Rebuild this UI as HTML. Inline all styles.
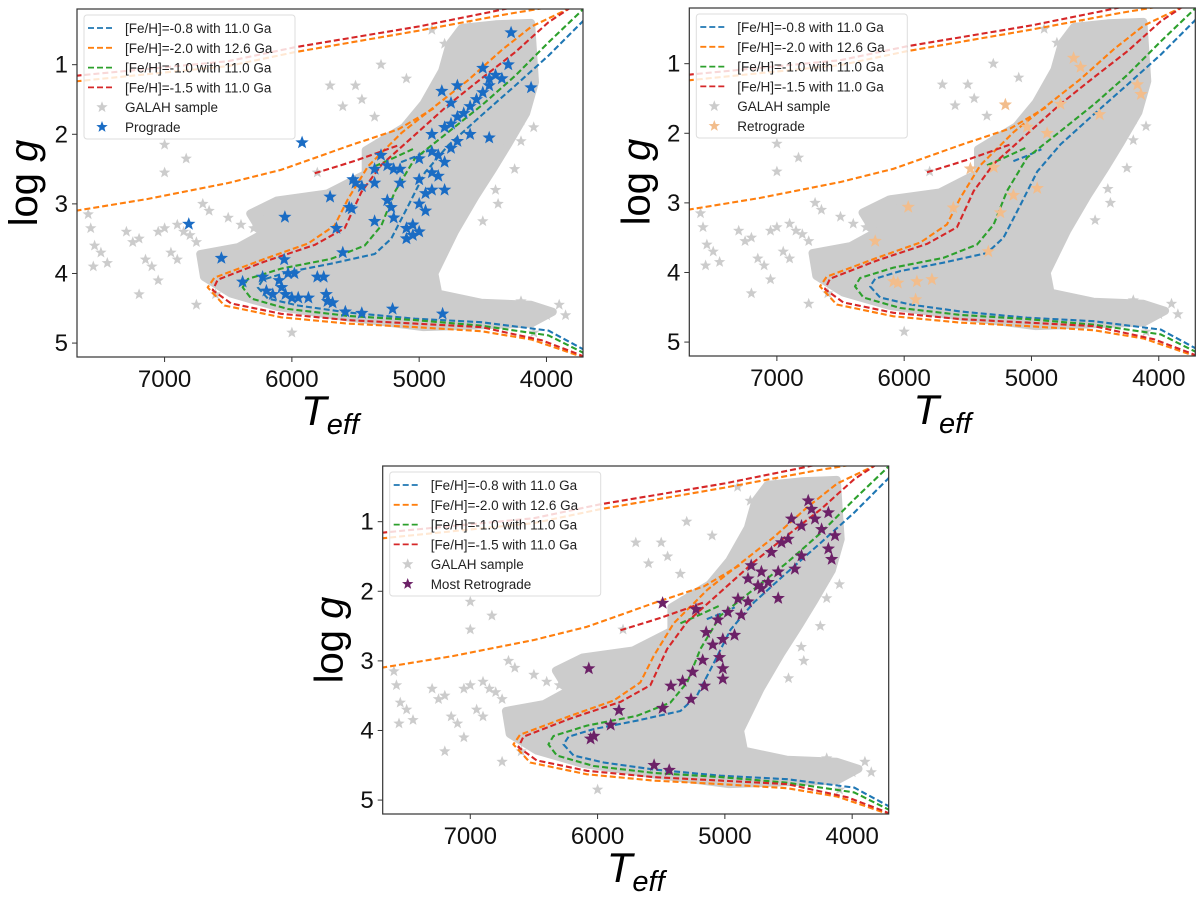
<!DOCTYPE html>
<html><head><meta charset="utf-8">
<style>
html,body{margin:0;padding:0;background:#fff;}
svg{display:block;font-family:"Liberation Sans","DejaVu Sans",sans-serif;}
</style></head>
<body>
<svg id="fig" width="1200" height="899" viewBox="0 0 1200 899" xmlns="http://www.w3.org/2000/svg"></svg>
<script>
// ---------- data ----------
const xTicks = [7000, 6000, 5000, 4000];
const yTicks = [1, 2, 3, 4, 5];
const isoLabels = ["[Fe/H]=-0.8 with 11.0 Ga","[Fe/H]=-2.0 with 12.6 Ga","[Fe/H]=-1.0 with 11.0 Ga","[Fe/H]=-1.5 with 11.0 Ga"];
const isoColors = ["#1f77b4","#ff7f0e","#2ca02c","#d62728"];
const isoBlue = [[3700,5.1],[3722,5.08],[3984,4.82],[4512,4.70],[5034,4.65],[5559,4.56],[5953,4.46],[6189,4.36],[6268,4.20],[6228,4.09],[6031,3.98],[5693,3.86],[5349,3.72],[5220,3.50],[5087,3.03],[4955,2.55],[4772,2.16],[4512,1.73],[4246,1.30],[3984,0.87],[3722,0.39],[3650,0.25]];
const isoBlueHB = [[5142,2.40],[5030,2.32],[4922,2.23]];
const isoGreen = [[3700,5.15],[3722,5.13],[3984,4.89],[4512,4.75],[5034,4.67],[5559,4.61],[6031,4.51],[6320,4.36],[6386,4.20],[6346,4.08],[6084,3.93],[5693,3.79],[5428,3.60],[5297,3.31],[5192,2.83],[5034,2.35],[4772,1.97],[4512,1.59],[4246,1.16],[3984,0.68],[3722,0.22],[3680,0.15]];
const isoGreenHB = [[5349,2.46],[5200,2.34],[5034,2.20]];
const isoRed = [[3700,5.2],[3748,5.16],[4037,4.96],[4512,4.77],[5034,4.72],[5559,4.67],[6084,4.58],[6478,4.43],[6622,4.24],[6583,4.09],[6215,3.83],[5821,3.59],[5585,3.35],[5454,2.83],[5297,2.44],[5034,2.01],[4772,1.58],[4512,1.20],[4246,0.82],[3984,0.39],[3827,0.20],[3780,0.12]];
const isoRedHB = [[5821,2.56],[5500,2.38],[5165,2.16]];
const isoOrange = [[3700,5.22],[3748,5.18],[4116,4.95],[4512,4.83],[5034,4.77],[5559,4.72],[6084,4.63],[6530,4.46],[6661,4.20],[6609,4.06],[6215,3.79],[5874,3.57],[5664,3.31],[5559,2.93],[5402,2.46],[5139,1.98],[4877,1.60],[4614,1.22],[4352,0.79],[4116,0.45],[3853,0.22],[3800,0.15]];
const isoOrangeHB = [[7700,3.10],[7134,2.93],[6500,2.70],[6084,2.51],[5559,2.17],[5165,1.93],[4877,1.62]];
const agbRedGreen = [[7700,1.16],[6500,0.95],[5979,0.75],[5000,0.45],[4378,0.22],[4200,0.15]];
const agbOrange = [[7700,1.24],[6500,1.02],[5979,0.82],[5000,0.51],[4300,0.27],[3900,0.15]];
const galahDense1 = [[4665,0.47],[4400,0.42],[4121,0.40],[4090,1.25],[4160,1.70],[4300,2.14],[4420,2.50],[4560,2.90],[4720,3.40],[4880,4.00],[4850,4.29],[4514,4.42],[4121,4.45],[3950,4.55],[4121,4.72],[4966,4.77],[5570,4.63],[6115,4.48],[6477,4.29],[6690,4.05],[6720,3.72],[6420,3.62],[6230,3.43],[6327,3.14],[6115,2.95],[5720,2.85],[5420,2.57],[5420,2.23],[5120,1.90],[4966,1.56],[4820,1.09],[4760,0.70]];
const galahStars = [[7600,3.15],[7580,3.35],[7550,3.6],[7500,3.7],[7560,3.9],[7450,3.85],[7300,3.4],[7250,3.55],[7200,3.5],[7150,3.8],[7100,3.9],[7050,3.4],[7000,3.35],[6950,3.7],[6900,3.8],[7200,4.3],[7050,4.1],[6900,3.3],[6850,3.4],[6800,3.45],[7000,2.15],[6830,2.35],[7000,2.55],[6750,3.55],[6700,3.0],[6650,3.1],[6500,3.2],[6400,3.3],[6300,3.35],[6200,3.1],[6100,3.05],[6050,3.3],[5950,3.2],[5850,3.0],[5750,3.1],[5700,2.9],[5600,2.85],[5500,2.7],[5800,2.55],[5300,2.1],[5200,2.2],[5600,1.6],[5500,1.3],[5700,1.3],[5300,1.0],[5450,1.5],[5350,1.75],[4600,0.45],[4400,0.5],[4200,1.8],[4000,4.6],[4100,4.85],[4300,4.65],[4500,4.6],[4700,4.5],[5000,4.5],[6000,4.85],[6750,4.45],[6600,4.3],[5000,3.75],[4800,3.5],[4500,3.25],[4400,2.8],[4600,2.6],[4200,4.4],[4150,4.55],[4250,4.7],[4900,0.5],[4800,0.7],[4300,1.3],[4200,2.1],[5100,1.2],[3900,4.45],[3850,4.6],[4380,3.0],[4250,2.5],[4100,1.9],[5500,4.1],[6300,3.8],[5450,3.2]];
const prograde = [[5920,2.12],[6810,3.29],[6055,3.19],[6554,3.78],[4822,1.38],[4278,0.54],[4121,1.33],[6387,4.12],[5209,4.51],[4816,4.58],[5451,4.57],[6230,4.05],[6200,4.25],[6150,4.3],[6100,4.1],[6080,4.2],[6050,4.3],[6000,4.35],[6030,4.0],[5980,4.0],[5950,4.35],[5870,4.35],[5800,4.05],[5750,4.05],[5730,4.3],[5720,4.4],[5680,4.42],[5600,3.7],[5580,4.55],[6060,3.8],[5500,2.7],[5450,2.75],[5520,2.65],[5350,2.5],[5300,2.3],[5250,2.45],[5200,2.5],[5150,2.5],[5350,2.7],[5250,2.95],[5220,3.05],[5100,3.35],[5050,3.3],[5000,3.4],[5050,3.45],[5100,3.5],[4950,3.1],[5000,3.0],[4950,2.85],[4900,2.8],[4850,2.6],[4900,2.55],[4800,2.4],[4850,2.3],[4750,2.2],[4700,2.1],[4900,2.0],[4800,1.9],[4750,1.85],[4700,1.75],[4650,1.7],[4600,1.6],[4550,1.5],[4500,1.4],[4450,1.3],[4400,1.15],[4500,1.05],[4450,1.2],[4700,1.3],[4600,2.0],[4450,2.05],[4800,2.8],[5000,2.65],[5150,2.7],[4750,1.55],[4350,1.2],[4300,1.0],[5550,3.05],[5530,3.07],[5700,2.9],[5650,3.35],[5350,3.25],[5200,3.2],[4900,2.25],[5000,2.35]];
const retrograde = [[5205,1.59],[4669,0.92],[4168,1.30],[4140,1.44],[5968,3.06],[5614,3.07],[6228,3.55],[5297,2.49],[5480,2.51],[5339,3.70],[5142,2.89],[4955,2.79],[6084,4.13],[6050,4.15],[5900,4.13],[5782,4.10],[5910,4.39],[5244,3.14],[4772,1.58],[4465,1.73],[5034,1.91],[4877,2.00],[4614,1.05]];
const mostRetro = [[6069,3.11],[5489,2.17],[5832,3.71],[5897,3.92],[6029,4.08],[6055,4.12],[5556,4.50],[5437,4.57],[5489,3.68],[5424,3.36],[5332,3.29],[5266,3.55],[5253,3.16],[5174,2.99],[5160,3.36],[5016,3.26],[5016,3.11],[5042,2.95],[5095,2.77],[5016,2.69],[5147,2.59],[5227,2.26],[5055,2.41],[4924,2.63],[4871,2.34],[4818,2.15],[4713,1.96],[4581,2.10],[4793,1.63],[4713,1.72],[4634,1.44],[4555,1.30],[4477,0.96],[4345,0.70],[4319,0.82],[4240,1.11],[4135,1.20],[4187,1.39],[4161,1.54],[4398,1.49],[4450,1.68],[4581,1.72],[4660,1.87],[4740,1.92],[4818,1.82],[4897,2.11],[4976,2.30],[4398,1.06],[4503,1.25],[4292,0.96],[4187,0.87]];

// ---------- drawing ----------
const NS = "http://www.w3.org/2000/svg";
const svg = document.getElementById('fig');
const T_LEFT = 7688, T_RIGHT = 3713, G_TOP = 0.2, G_BOT = 5.2;
const PW = 506, PH = 348;
let clipId = 0;
function mk(tag, attrs, parent){ const e = document.createElementNS(NS, tag); for (const k in attrs) e.setAttribute(k, attrs[k]); parent.appendChild(e); return e; }
function starPath(cx, cy, r){ let d = ""; for (let i = 0; i < 10; i++){ const a = -Math.PI/2 + i*Math.PI/5; const rr = i%2 ? r*0.42 : r; d += (i ? "L" : "M") + (cx + rr*Math.cos(a)).toFixed(1) + " " + (cy + rr*Math.sin(a)).toFixed(1); } return d + "Z"; }

function drawPanel(ox, oy, specialData, specialColor, specialLabel, key){
  const xs = t => ox + (T_LEFT - t) / (T_LEFT - T_RIGHT) * PW;
  const ys = g => oy + (g - G_TOP) / (G_BOT - G_TOP) * PH;
  const g = mk('g', {}, svg);
  
  
  const cid = 'clip' + (clipId++);
  const cp = mk('clipPath', {id: cid}, g); mk('rect', {x: ox, y: oy, width: PW, height: PH}, cp);
  const plot = mk('g', {'clip-path': 'url(#' + cid + ')'}, g);
  
  
  const p = mk('polygon', {points: galahDense1.map(d => xs(d[0]).toFixed(1) + ',' + ys(d[1]).toFixed(1)).join(' '), fill: '#cccccc', stroke: '#cccccc', 'stroke-width': 8, 'stroke-linejoin': 'round'}, plot);
  
  
  galahStars.forEach(d => {
    const s = mk('path', {d: starPath(xs(d[0]), ys(d[1]), 6), fill: '#cccccc'}, plot);
    
    
  });
  const lines = [[isoOrangeHB,1],[agbOrange,1],[agbRedGreen,3],[isoBlue,0],[isoBlueHB,0],[isoOrange,1],[isoGreen,2],[isoGreenHB,2],[isoRed,3],[isoRedHB,3]];
  lines.forEach(([arr, ci]) => {
    const pl = mk('polyline', {points: arr.map(d => xs(d[0]).toFixed(1) + ',' + ys(d[1]).toFixed(1)).join(' '), fill: 'none', stroke: isoColors[ci], 'stroke-width': 2.1, 'stroke-dasharray': '6,3', 'stroke-linejoin': 'round'}, plot);
    
    
  });
  specialData.forEach(d => {
    const s = mk('path', {d: starPath(xs(d[0]), ys(d[1]), 7), fill: specialColor}, plot);
    
    
  });
  const fr = mk('rect', {x: ox, y: oy, width: PW, height: PH, fill: 'none', stroke: '#333', 'stroke-width': 1.2}, g);
  
  
  xTicks.forEach(t => {
    const x = xs(t);
    mk('line', {x1: x, y1: oy+PH, x2: x, y2: oy+PH+5, stroke: '#333', 'stroke-width': 1}, g);
    const tx = mk('text', {x: x, y: oy+PH+30, 'font-size': 24, 'text-anchor': 'middle', fill: '#111'}, g);
    tx.textContent = t;
    
    
  });
  yTicks.forEach(v => {
    const y = ys(v);
    mk('line', {x1: ox-5, y1: y, x2: ox, y2: y, stroke: '#333', 'stroke-width': 1}, g);
    const tx = mk('text', {x: ox-9, y: y+8, 'font-size': 24, 'text-anchor': 'end', fill: '#111'}, g);
    tx.textContent = v;
    
    
  });
  const yl = mk('text', {x: 0, y: 0, 'font-size': 40, 'text-anchor': 'middle', fill: '#000', transform: 'translate(' + (ox-40) + ',' + (oy+PH/2) + ') rotate(-90)'}, g);
  yl.innerHTML = 'log <tspan font-style="italic">g</tspan>';
  
  
  const xl = mk('text', {x: ox+PW/2, y: oy+PH+68, 'font-size': 42, 'text-anchor': 'middle', fill: '#000', 'font-style': 'italic'}, g);
  xl.innerHTML = 'T<tspan font-size="29" dy="9">eff</tspan>';
  
  
  const lg = mk('g', {}, g);
  
  
  mk('rect', {x: ox+7, y: oy+6, width: 211, height: 124, rx: 3, fill: 'rgba(255,255,255,0.82)', stroke: '#dddddd', 'stroke-width': 1}, lg);
  const labels = isoLabels.concat(['GALAH sample', specialLabel]);
  labels.forEach((lab, i) => {
    const y = oy + 19 + i*19.8;
    if (i < 4) {
      mk('line', {x1: ox+11, y1: y, x2: ox+38, y2: y, stroke: isoColors[i], 'stroke-width': 1.8, 'stroke-dasharray': '6,3'}, lg);
    } else {
      mk('path', {d: starPath(ox+25, y, 6), fill: i === 4 ? '#cccccc' : specialColor}, lg);
    }
    const t = mk('text', {x: ox+48, y: y+5, 'font-size': 13.5, fill: '#222'}, lg);
    t.textContent = lab;
    
    
  });
}

drawPanel(77, 9, prograde, '#1a6cc4', 'Prograde', 'prograde');
drawPanel(689.3, 8, retrograde, '#f2bd8c', 'Retrograde', 'retrograde');
drawPanel(382.7, 466, mostRetro, '#6c2167', 'Most Retrograde', 'most-retrograde');
</script>
</body></html>
